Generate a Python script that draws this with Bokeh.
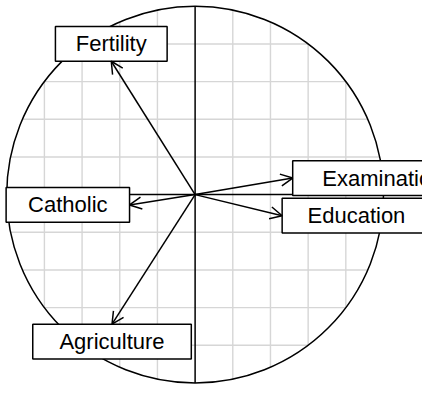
import numpy as np
from bokeh.plotting import figure
from bokeh.models import Range1d, Arrow, OpenHead, ColumnDataSource
from bokeh.core.properties import value
from bokeh.embed import file_html
from bokeh.resources import INLINE

# ---- data (correlation circle) ----
variables = ["Fertility", "Agriculture", "Examination", "Education", "Catholic"]
comp1 = [-0.445, -0.441, 0.518, 0.462, -0.348]
comp2 = [0.708, -0.688, 0.088, -0.112, -0.055]
grid_ticks = [-0.8, -0.6, -0.4, -0.2, 0.2, 0.4, 0.6, 0.8]

# ---- layout ----
W, H = 422, 385
PX = 188.36                      # pixels per data unit (equal on both axes)
XR = (-1.033, 1.207)
YR = (-1.0135, 1.0306)
FONT = "Liberation Sans"
FONT_PX = 22.16
BOX_H_PX = 34.7

# Arial / Liberation Sans advance widths (per 1000 em)
CHAR_W = {"F": 611, "e": 556, "r": 333, "t": 278, "i": 222, "l": 222, "y": 500,
          "E": 667, "x": 500, "a": 556, "m": 833, "n": 556, "o": 556, "d": 556,
          "u": 556, "c": 500, "C": 722, "h": 556, "A": 667, "g": 556}


def text_px(s):
    return sum(CHAR_W.get(ch, 556) for ch in s) / 1000.0 * FONT_PX


p = figure(width=W, height=H, x_range=Range1d(*XR), y_range=Range1d(*YR),
           output_backend="svg", toolbar_location=None, min_border=0,
           outline_line_color=None, background_fill_color="white",
           border_fill_color="white")
p.axis.visible = False
p.grid.visible = False

# grid clipped to the unit circle
g = np.array(grid_ticks)
h = np.sqrt(1 - g ** 2)
p.segment(x0=g, y0=-h, x1=g, y1=h, line_color="#d6d6d6", line_width=1.4)
p.segment(x0=-h, y0=g, x1=h, y1=g, line_color="#d6d6d6", line_width=1.4)

# axes
p.segment(x0=[0, -1], y0=[-1, 0], x1=[0, 1], y1=[1, 0], line_color="black", line_width=1.5)

# circle
p.circle(x=[0], y=[0], radius=1, fill_color=None, line_color="black", line_width=1.5)

# arrows
src = ColumnDataSource(dict(x0=[0] * len(comp1), y0=[0] * len(comp1), x1=comp1, y1=comp2))
p.add_layout(Arrow(source=src, x_start="x0", y_start="y0", x_end="x1", y_end="y1",
                   line_color="black", line_width=1.5,
                   end=OpenHead(size=12, line_color="black", line_width=1.5)))

# label boxes
cx, cy, bw, bh = [], [], [], []
for name, x, y in zip(variables, comp1, comp2):
    wpx = 1.357 * text_px(name) + 14.8
    w, hh = wpx / PX, BOX_H_PX / PX
    if abs(x) > abs(y):
        cx.append(x + np.sign(x) * w / 2)
        cy.append(y)
    else:
        cx.append(x)
        cy.append(y + np.sign(y) * hh / 2)
    bw.append(w)
    bh.append(hh)

lab = ColumnDataSource(dict(x=cx, y=cy, w=bw, h=bh, t=variables))
p.rect(x="x", y="y", width="w", height="h", source=lab,
       fill_color="white", line_color="black", line_width=1.5)
p.text(x="x", y="y", text="t", source=lab, text_font=value(FONT),
       text_font_size=f"{FONT_PX:.0f}px", text_align="center",
       text_baseline="middle", text_color="black")

open("out.html", "w").write(file_html(p, INLINE))
